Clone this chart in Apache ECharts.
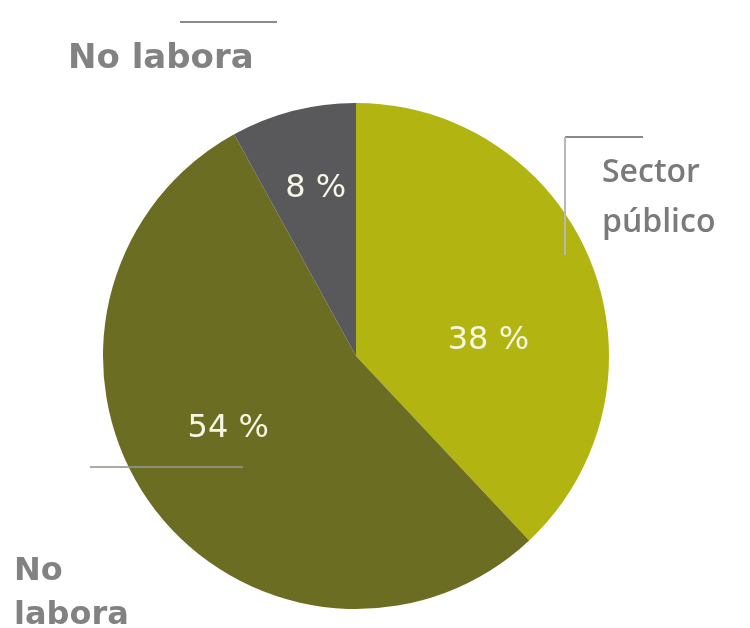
<!DOCTYPE html>
<html>
<head>
<meta charset="utf-8">
<script src="https://cdn.jsdelivr.net/npm/echarts@6/dist/echarts.min.js"></script>
<style>html,body{margin:0;padding:0;background:#fff;}#c{width:750px;height:628px;}</style>
</head>
<body>
<div id="c"></div>
<script>
const categories = ['Sector público', 'No labora', 'No labora (otro)'];
const values = [38, 54, 8];
const labelTexts = ['38 %', '54 %', '8 %'];
const colors = ['#b2b411', '#6b6d22', '#59595b'];
const labelShift = [[12, 32], [-23, -3], [-8, -42]];

const chart = echarts.init(document.getElementById('c'), null, {renderer: 'canvas'});
const lineStyle = {stroke: '#8a8a8a', lineWidth: 2};
chart.setOption({
  animation: false,
  series: [{
    type: 'pie',
    center: [356, 356],
    radius: [0, 253],
    startAngle: 90,
    clockwise: true,
    silent: true,
    data: categories.map((c, i) => ({name: c, value: values[i], itemStyle: {color: colors[i]}})),
    label: {
      show: true,
      position: 'inside',
      formatter: p => labelTexts[p.dataIndex],
      color: '#f6f6e4',
      fontFamily: 'DejaVu Sans',
      fontSize: 32,
      fontWeight: 'normal'
    },
    labelLayout: p => ({dx: labelShift[p.dataIndex][0], dy: labelShift[p.dataIndex][1]}),
    labelLine: {show: false}
  }],
  graphic: [
    {type: 'line', z: 100, shape: {x1: 180, y1: 22, x2: 277, y2: 22}, style: lineStyle},
    {type: 'text', z: 100, left: 68, top: 42, style: {text: 'No labora', font: 'bold 34px "DejaVu Sans"', fill: '#828282'}},
    {type: 'line', z: 100, shape: {x1: 565, y1: 137, x2: 643, y2: 137}, style: lineStyle},
    {type: 'line', z: 100, shape: {x1: 565, y1: 137, x2: 565, y2: 255}, style: {stroke: '#b8b8b8', lineWidth: 2}},
    {type: 'text', z: 100, left: 602, top: 148, style: {text: 'Sector\npúblico', font: '600 32px "Open Sans"', fill: '#7a7a7a', lineHeight: 50}},
    {type: 'line', z: 100, shape: {x1: 90, y1: 467, x2: 243, y2: 467}, style: {stroke: 'rgba(150,150,140,0.8)', lineWidth: 2}},
    {type: 'text', z: 100, left: 14, top: 550, style: {text: 'No\nlabora', font: 'bold 32px "DejaVu Sans"', fill: '#828282', lineHeight: 44}}
  ]
});
</script>
</body>
</html>
